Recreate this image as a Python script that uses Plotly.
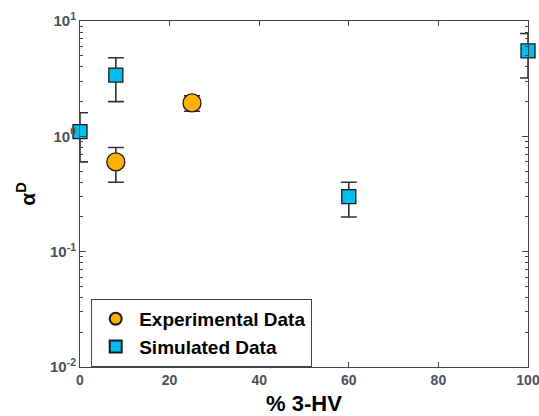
import plotly.graph_objects as go
import numpy as np

# Experimental data
exp_x = [8, 25]
exp_y = [0.6, 1.95]
exp_hi = [0.8, 2.25]
exp_lo = [0.4, 1.65]

# Simulated data
sim_x = [0, 8, 60, 100]
sim_y = [1.1, 3.4, 0.3, 5.5]
sim_hi = [1.6, 4.8, 0.4, 7.8]
sim_lo = [0.6, 2.0, 0.2, 3.2]

x_ticks = [0, 20, 40, 60, 80, 100]
y_tickvals = [0.01, 0.1, 1, 10]
y_ticktext = ["10<sup>-2</sup>", "10<sup>-1</sup>", "10<sup>0</sup>", "10<sup>1</sup>"]

FONT = "Liberation Sans, Arial, sans-serif"
AXC = "#3d4452"
TICKC = "#4a505c"

def err(y, hi, lo):
    return dict(type="data", symmetric=False,
                array=list(np.array(hi) - np.array(y)),
                arrayminus=list(np.array(y) - np.array(lo)),
                color="#333333", thickness=1.6, width=8)

fig = go.Figure()
fig.add_trace(go.Scatter(
    x=exp_x, y=exp_y, mode="markers", name="Experimental Data",
    error_y=err(exp_y, exp_hi, exp_lo),
    marker=dict(symbol="circle", size=18, color="#FFB000",
                line=dict(color="#1a1a1a", width=1.3)),
    cliponaxis=False))
fig.add_trace(go.Scatter(
    x=sim_x, y=sim_y, mode="markers", name="Simulated Data",
    error_y=err(sim_y, sim_hi, sim_lo),
    marker=dict(symbol="square", size=14, color="#00BFEE",
                line=dict(color="#1a1a1a", width=1.3)),
    cliponaxis=False))

fig.update_layout(
    width=539, height=416,
    margin=dict(l=80, r=11, t=21, b=49),
    paper_bgcolor="white", plot_bgcolor="white",
    showlegend=True,
    legend=dict(x=0.025, y=0.197, xanchor="left", yanchor="top",
                bgcolor="white", bordercolor="#444444", borderwidth=1,
                font=dict(family=FONT, size=19, color="black", weight="bold"),
                itemsizing="constant", tracegroupgap=0, itemwidth=37),
    xaxis=dict(range=[0, 100], tickvals=x_ticks, ticks="inside", ticklen=5,
               tickcolor=AXC, showline=True, linecolor=AXC, linewidth=1,
               mirror="ticks", showgrid=False, zeroline=False, automargin=False,
               ticklabeloverflow="allow",
               tickfont=dict(family=FONT, size=14, color=TICKC, weight="bold"),
               title=dict(text="% 3-HV", standoff=12,
                          font=dict(family=FONT, size=22, color="black", weight="bold"))),
    yaxis=dict(type="log", range=[-2, 1], tickvals=y_tickvals, ticktext=y_ticktext,
               ticks="inside", ticklen=6, tickcolor=AXC, showline=True,
               linecolor=AXC, linewidth=1, mirror="ticks", showgrid=False,
               zeroline=False, automargin=False,
               minor=dict(ticks="inside", ticklen=3, tickcolor=AXC, dtick="D1", showgrid=False),
               tickfont=dict(family=FONT, size=15, color=TICKC, weight="bold"),
               title=dict(text="α<sup>D</sup>", standoff=8,
                          font=dict(family=FONT, size=21, color="black", weight="bold"))),
)

fig.write_html("out.html")
